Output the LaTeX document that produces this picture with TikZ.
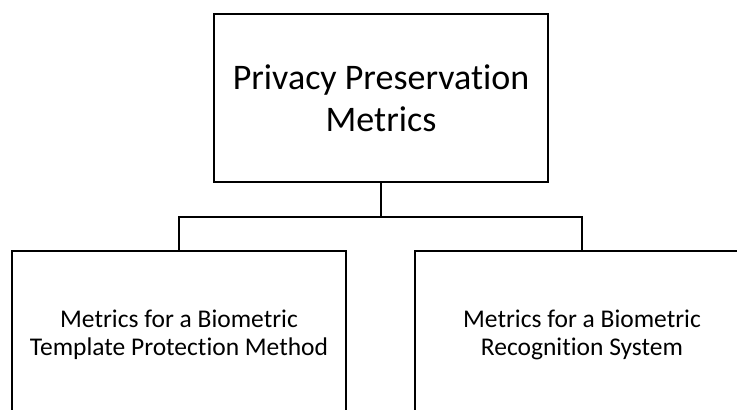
\documentclass[tikz,border=0pt]{standalone}
\usepackage{fontspec}
\setmainfont[Ligatures=NoCommon]{Carlito}
\begin{document}
\begin{tikzpicture}[x=1pt,y=-1pt,
  box/.style={draw=black, line width=2pt, fill=white, minimum width=334pt,
    minimum height=168pt, align=center, inner sep=0pt},
  bigtext/.style={font=\fontsize{36}{41.7}\selectfont},
  smalltext/.style={font=\fontsize{25.5}{27.5}\selectfont},
  link/.style={draw=black, line width=2pt}]
  \useasboundingbox (0,0) rectangle (737,410);
  \clip (0,0) rectangle (737,410);
  \fill[white] (0,0) rectangle (737,410);
  \node[box, bigtext] (top) at (381,98) {Privacy Preservation\\Metrics};
  \node[box, smalltext] (left) at (179,335) {Metrics for a Biometric\\Template Protection Method};
  \node[box, smalltext] (right) at (582,335) {Metrics for a Biometric\\Recognition System};
  \draw[link] (top.south) -- ++(0,34) coordinate (junction);
  \draw[link] (left.north) |- (junction) -| (right.north);
\end{tikzpicture}
\end{document}
